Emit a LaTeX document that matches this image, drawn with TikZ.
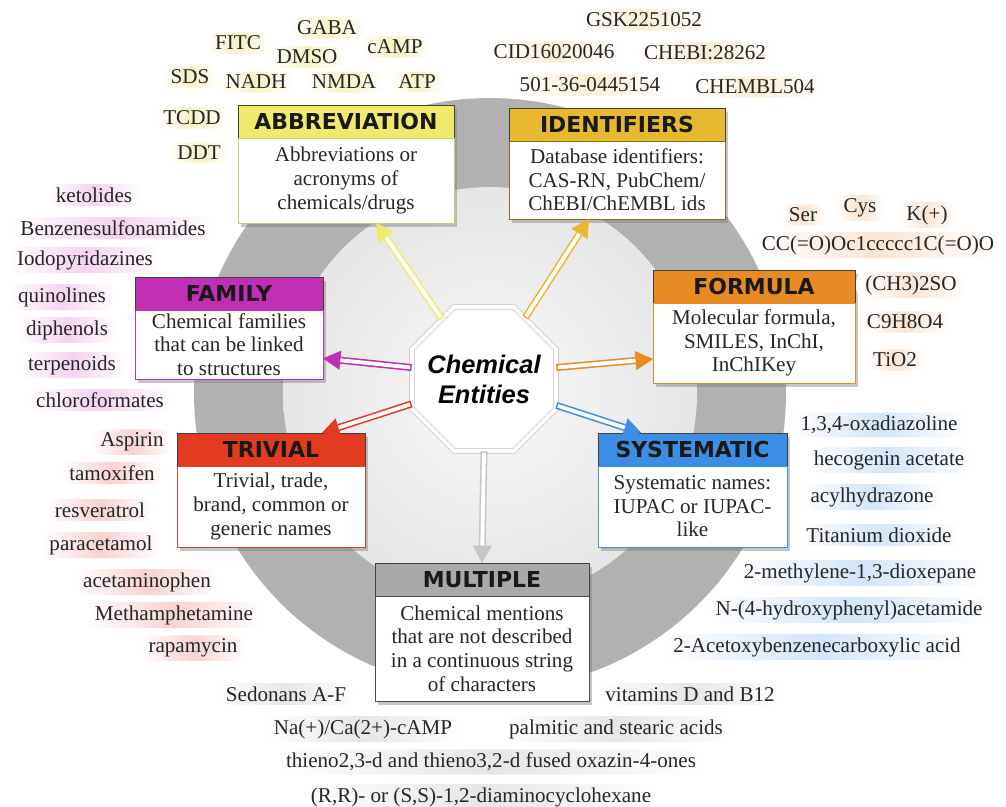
\documentclass[tikz,border=0pt]{standalone}
\usepackage{fontspec}
\setmainfont{Liberation Serif}
\newfontfamily\headfont{DejaVu Sans}
\newfontfamily\hubfont{Liberation Sans}
\usetikzlibrary{arrows.meta, positioning, shapes.geometric, shadows, calc}

% colours of the seven classes
\definecolor{ringgrey}{HTML}{B1B1B1}
\definecolor{abbrcol}{HTML}{EEEB6C}
\definecolor{idencol}{HTML}{E8B82E}
\definecolor{famcol}{HTML}{C12FB4}
\definecolor{formcol}{HTML}{E88B22}
\definecolor{trivcol}{HTML}{E23B1F}
\definecolor{systcol}{HTML}{3B8EE4}
\definecolor{multcol}{HTML}{A9A9A9}
\definecolor{abbrglow}{HTML}{F6F2C4}
\definecolor{idenglow}{HTML}{FAEED6}
\definecolor{famglow}{HTML}{F4D3EF}
\definecolor{formglow}{HTML}{FBE5D5}
\definecolor{trivglow}{HTML}{F8D2D0}
\definecolor{systglow}{HTML}{D3E5F8}
\definecolor{multglow}{HTML}{E6E6E6}

\tikzset{
  cathead/.style={draw=black!75, fill=#1, anchor=north west, outer sep=0pt, inner sep=0pt,
    minimum height=0.66cm, font=\headfont\bfseries\fontsize{12.5}{14}\selectfont, text=black!90,
    drop shadow={opacity=0.45, shadow xshift=1.5pt, shadow yshift=-2pt}},
  catbody/.style={draw=#1, fill=white, outer sep=0pt, inner sep=2pt, align=center,
    font=\fontsize{12}{13.4}\selectfont, text=black!85,
    drop shadow={opacity=0.45, shadow xshift=1.5pt, shadow yshift=-2pt}},
  term/.style={left color=white, right color=white, middle color=#1, rounded corners=5pt,
    inner xsep=5pt, inner ysep=2pt, font=\fontsize{12}{14}\selectfont, text=black!85},
  hollow/.style={draw=#1, line width=4pt, -{Triangle[length=10pt, width=11pt, line width=0pt]},
    postaction={draw=white, line width=2.2pt, -, shorten >=10pt, shorten <=0.9pt}}
}

\begin{document}
\begin{tikzpicture}[x=0.02cm, y=-0.02cm]
\useasboundingbox (0,0) rectangle (1006,806);

% grey ring and light disc
\fill[ringgrey] (490,394) circle[radius=5.92cm];
\shade[inner color=gray!5, outer color=gray!20] (490,394) circle[radius=4.14cm];

% centre
\node[regular polygon, regular polygon sides=8, minimum size=3.12cm, inner sep=0pt, fill=white, draw=gray!50,
  double=white, double distance=2.2pt,
  label={[align=center, font=\hubfont\bfseries\itshape\fontsize{14.5}{17}\selectfont]center:Chemical\\Entities}]
  (oct) at (484,379) {};

% class boxes
\node[cathead=abbrcol, minimum width=4.32cm] (abbrhead) at (238,105) {ABBREVIATION};
\node[catbody=abbrcol!70!gray, minimum width=4.32cm, minimum height=1.7cm, below=0pt of abbrhead] (abbrbody)
  {Abbreviations or\\ acronyms of\\ chemicals/drugs};

\node[cathead=idencol, minimum width=4.32cm] (idenhead) at (509,108) {IDENTIFIERS};
\node[catbody=idencol!60!black, minimum width=4.32cm, minimum height=1.56cm, below=0pt of idenhead] (idenbody)
  {Database identifiers:\\ CAS-RN, PubChem/\\ ChEBI/ChEMBL ids};

\node[cathead=famcol, minimum width=3.76cm] (famhead) at (135,277) {FAMILY};
\node[catbody=famcol, minimum width=3.76cm, minimum height=1.36cm, below=0pt of famhead] (fambody)
  {Chemical families\\ that can be linked\\ to structures};

\node[cathead=formcol, minimum width=4.04cm] (formhead) at (653,270) {FORMULA};
\node[catbody=formcol, minimum width=4.04cm, minimum height=1.6cm, below=0pt of formhead] (formbody)
  {Molecular formula,\\ SMILES, InChI,\\ InChIKey};

\node[cathead=trivcol, minimum width=3.76cm] (trivhead) at (177,433) {TRIVIAL};
\node[catbody=trivcol, minimum width=3.76cm, minimum height=1.62cm, below=0pt of trivhead] (trivbody)
  {Trivial, trade,\\ brand, common or\\ generic names};

\node[cathead=systcol, minimum width=3.78cm] (systhead) at (598,433) {SYSTEMATIC};
\node[catbody=systcol, minimum width=3.78cm, minimum height=1.62cm, below=0pt of systhead] (systbody)
  {Systematic names:\\ IUPAC or IUPAC-\\ like};

\node[cathead=multcol, minimum width=4.28cm] (multhead) at (375,563) {MULTIPLE};
\node[catbody=black!70, minimum width=4.28cm, minimum height=2.1cm, below=0pt of multhead] (multbody)
  {Chemical mentions\\ that are not described\\ in a continuous string\\ of characters};

% arrows from the centre
\draw[hollow=abbrcol] (oct.125) -- ($(abbrbody.south west)!0.64!(abbrbody.south east)$);
\draw[hollow=idencol] (oct.56) -- ($(idenbody.south west)!0.37!(idenbody.south east)$);
\draw[hollow=famcol] (oct.171) -- ($(fambody.north east)!0.7!(fambody.south east)$);
\draw[hollow=formcol] (oct.9) -- ($(formbody.north west)!0.7!(formbody.south west)$);
\draw[hollow=trivcol] (oct.199) -- ($(trivhead.north west)!0.77!(trivhead.north east)$);
\draw[hollow=systcol] (oct.340) -- ($(systhead.north west)!0.23!(systhead.north east)$);
\draw[hollow=gray!45] (oct.south) -- (multhead.north);

% abbreviations
\node[term=abbrglow] (ab1) at (327,28) {GABA};
\node[term=abbrglow] (ab2) at (238,43) {FITC};
\node[term=abbrglow] (ab3) at (307,57) {DMSO};
\node[term=abbrglow] (ab4) at (395,47) {cAMP};
\node[term=abbrglow] (ab5) at (190,77) {SDS};
\node[term=abbrglow] (ab6) at (256,82) {NADH};
\node[term=abbrglow] (ab7) at (344,82) {NMDA};
\node[term=abbrglow] (ab8) at (417,82) {ATP};
\node[term=abbrglow] (ab9) at (192,118) {TCDD};
\node[term=abbrglow] (ab10) at (199,153) {DDT};

% identifiers
\node[term=idenglow] (id1) at (644,20) {GSK2251052};
\node[term=idenglow] (id2) at (554,52) {CID16020046};
\node[term=idenglow] (id3) at (705,53) {CHEBI:28262};
\node[term=idenglow] (id4) at (590,85) {501-36-0445154};
\node[term=idenglow] (id5) at (755,87) {CHEMBL504};

% families
\node[term=famglow] (fa1) at (94,195) {ketolides};
\node[term=famglow] (fa2) at (113,228) {Benzenesulfonamides};
\node[term=famglow] (fa3) at (85,260) {Iodopyridazines};
\node[term=famglow] (fa4) at (62,297) {quinolines};
\node[term=famglow] (fa5) at (67,330) {diphenols};
\node[term=famglow] (fa6) at (72,365) {terpenoids};
\node[term=famglow] (fa7) at (100,400) {chloroformates};

% formulas
\node[term=formglow] (fo1) at (803,215) {Ser};
\node[term=formglow] (fo2) at (860,208) {Cys};
\node[term=formglow] (fo3) at (927,215) {K(+)};
\node[term=formglow] (fo4) at (878,245) {CC(=O)Oc1ccccc1C(=O)O};
\node[term=formglow] (fo5) at (911,285) {(CH3)2SO};
\node[term=formglow] (fo6) at (905,322) {C9H8O4};
\node[term=formglow] (fo7) at (895,360) {TiO2};

% trivial names
\node[term=trivglow] (tr1) at (132,442) {Aspirin};
\node[term=trivglow] (tr2) at (112,473) {tamoxifen};
\node[term=trivglow] (tr3) at (100,510) {resveratrol};
\node[term=trivglow] (tr4) at (101,545) {paracetamol};
\node[term=trivglow] (tr5) at (147,582) {acetaminophen};
\node[term=trivglow] (tr6) at (174,615) {Methamphetamine};
\node[term=trivglow] (tr7) at (193,648) {rapamycin};

% systematic names
\node[term=systglow] (sy1) at (879,425) {1,3,4-oxadiazoline};
\node[term=systglow] (sy2) at (889,460) {hecogenin acetate};
\node[term=systglow] (sy3) at (872,497) {acylhydrazone};
\node[term=systglow] (sy4) at (879,535) {Titanium dioxide};
\node[term=systglow] (sy5) at (860,573) {2-methylene-1,3-dioxepane};
\node[term=systglow] (sy6) at (849,610) {N-(4-hydroxyphenyl)acetamide};
\node[term=systglow] (sy7) at (817,647) {2-Acetoxybenzenecarboxylic acid};

% multiple mentions
\node[term=multglow] (mu1) at (286,694) {Sedonans A-F};
\node[term=multglow] (mu2) at (690,694) {vitamins D and B12};
\node[term=multglow] (mu3) at (363,729) {Na(+)/Ca(2+)-cAMP};
\node[term=multglow] (mu4) at (616,729) {palmitic and stearic acids};
\node[term=multglow] (mu5) at (491,762) {thieno2,3-d and thieno3,2-d fused oxazin-4-ones};
\node[term=multglow] (mu6) at (481,797) {(R,R)- or (S,S)-1,2-diaminocyclohexane};

\end{tikzpicture}
\end{document}
